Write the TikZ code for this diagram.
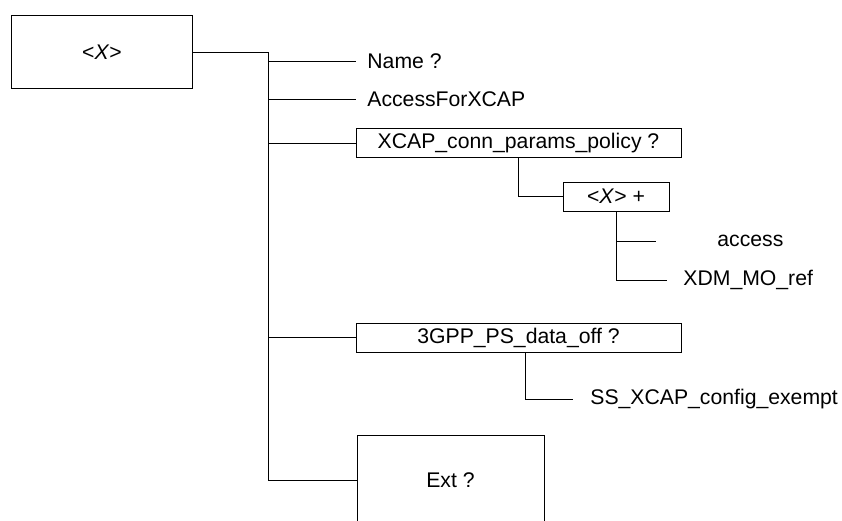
\documentclass[tikz,border=0pt]{standalone}
\usepackage{fontspec}
\setmainfont{Liberation Sans}
\usetikzlibrary{positioning}

\begin{document}
\begin{tikzpicture}[x=1pt, y=-1pt, on grid, line width=0.8pt,
    font=\fontsize{21.2}{25}\selectfont,
    box/.style={draw, inner sep=0pt, minimum width=325pt, minimum height=29pt},
    leaf/.style={anchor=west, inner sep=0pt},
    elbow/.style={to path={|- (\tikztotarget)}}]
\useasboundingbox (0,0) rectangle (842,520);
\node[box, minimum width=181pt, minimum height=73pt] (root) at (102,52) {<\textit{X}>};
\coordinate[right=166pt of root] (trunk);
\node (name) [below right=9pt and 265pt of root, leaf] {Name ?};
\node (afx)  [below right=47pt and 265pt of root, leaf] {AccessForXCAP};
\node[box]   (xcap) [below right=91pt and 416.5pt of root] {XCAP\_conn\_params\_policy ?};
\node[box, minimum width=106pt] (xnode) [below right=53.5pt and 97.5pt of xcap] {<\textit{X}> +};
\node (acc)  [below right=44.5pt and 101pt of xnode, leaf] {access};
\node (xdm)  [below right=83.5pt and 67pt of xnode, leaf] {XDM\_MO\_ref};
\node[box]   (gpp) [below=194.5pt of xcap] {3GPP\_PS\_data\_off ?};
\node (ssx)  [below right=61.5pt and 71.5pt of gpp, leaf] {SS\_XCAP\_config\_exempt};
\node[box, minimum width=187pt, minimum height=90pt] (ext) [below left=142.5pt and 68pt of gpp] {Ext ?};
\path (root.east) edge (trunk)
      (trunk) edge (trunk |- ext.west)
      (trunk |- name.west) edge[shorten >=11pt] (name.west)
      (trunk |- afx.west)  edge[shorten >=11pt] (afx.west)
      (trunk |- xcap.west) edge (xcap.west)
      (trunk |- gpp.west)  edge (gpp.west)
      (trunk |- ext.west)  edge (ext.west)
      (xcap.south) edge[elbow] (xnode.west)
      (xnode.south) edge[elbow, shorten >=61pt] (acc.west)
                    edge[elbow, shorten >=16pt] (xdm.west)
      ([xshift=7pt]gpp.south) edge[elbow, shorten >=17pt] (ssx.west);
\end{tikzpicture}
\end{document}
